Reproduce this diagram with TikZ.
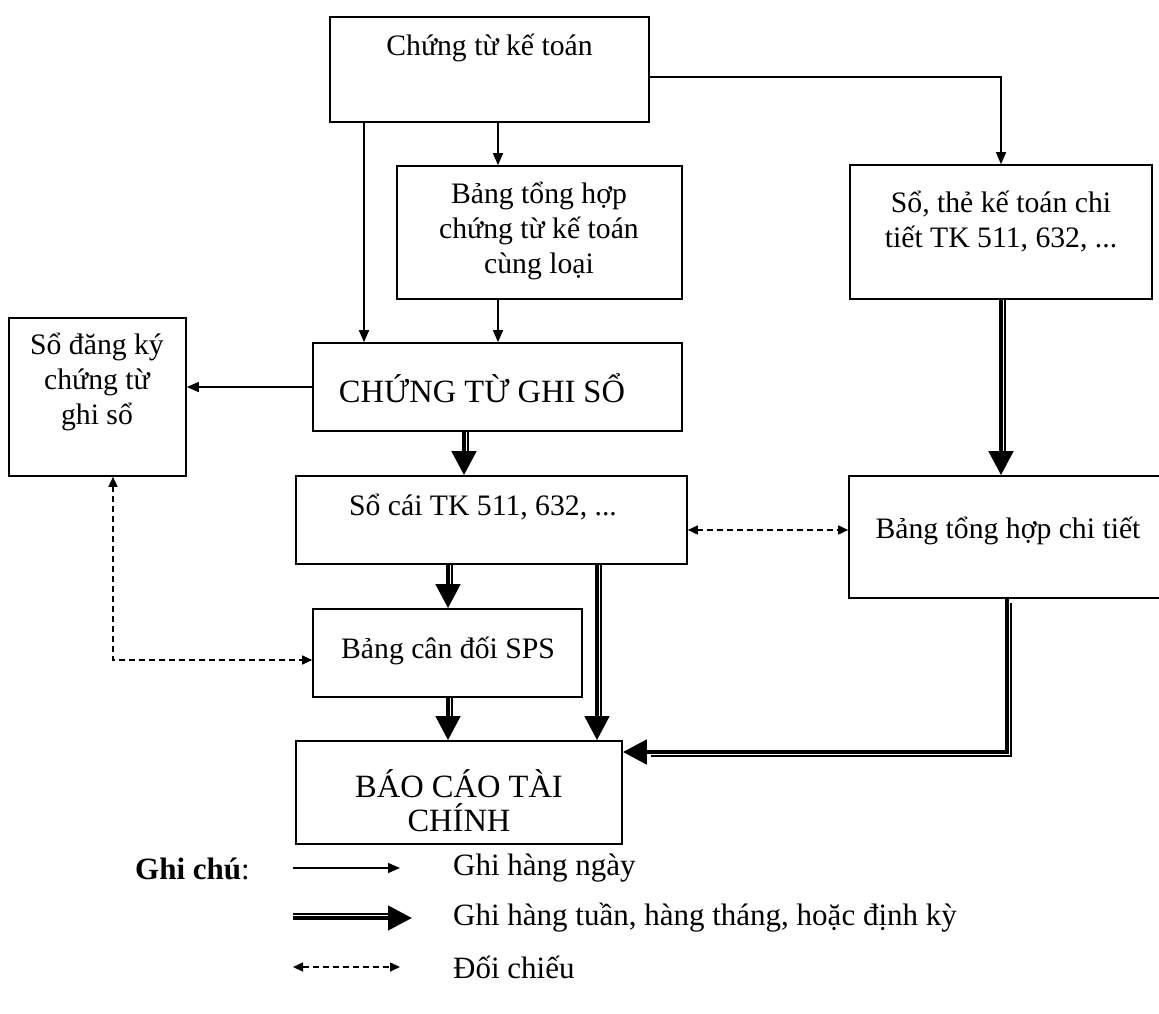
\documentclass[tikz,border=0pt]{standalone}
\usepackage{fontspec}
\setmainfont{Liberation Serif}
\usetikzlibrary{arrows.meta}
\begin{document}
\begin{tikzpicture}[x=1pt,y=-1pt,
  box/.style={draw, line width=1.6pt, inner sep=0pt},
  txt/.style={font=\fontsize{29.7}{35}\selectfont, align=center, inner sep=0pt},
  caps/.style={font=\fontsize{32.5}{34}\selectfont, align=center, inner sep=0pt},
  keytxt/.style={font=\fontsize{31}{36}\selectfont, inner sep=0pt, anchor=west},
  dayarr/.style={line width=1.5pt, -{Triangle[length=12pt,width=10pt]}},
  dblarr/.style={line width=4.5pt, -{Triangle[length=24pt,width=24pt]}},
  cmp/.style={line width=1.3pt, shorten >=24pt},
  dasharr/.style={line width=1.5pt, dash pattern=on 6pt off 4pt,
    {Triangle[length=10pt,width=9pt]}-{Triangle[length=10pt,width=9pt]}}
]
\useasboundingbox (0,0) rectangle (1159,1014);

% boxes
\node[box, minimum width=319pt, minimum height=105pt] (ctkt)  at (489.5,69.5) {};
\node[box, minimum width=285pt, minimum height=133pt] (bth)   at (539.5,232.5) {};
\node[box, minimum width=302pt, minimum height=134pt] (sthe)  at (1001,232) {};
\node[box, minimum width=177pt, minimum height=158pt] (sdk)   at (97.5,397) {};
\node[box, minimum width=369pt, minimum height=88pt]  (ctgs)  at (497.5,387) {};
\node[box, minimum width=391pt, minimum height=88pt]  (socai) at (491.5,520) {};
\node[box, minimum width=316pt, minimum height=122pt] (bthct) at (1007,537) {};
\node[box, minimum width=269pt, minimum height=88pt]  (bcd)   at (447.5,653) {};
\node[box, minimum width=326pt, minimum height=103pt] (bctc)  at (459,792.5) {};

% labels
\node[txt]  (ctkt-t)  at (489.5,48)  {Chứng từ kế toán};
\node[txt]  (bth-t)   at (539,231)   {Bảng tổng hợp\\chứng từ kế toán\\cùng loại};
\node[txt]  (sthe-t)  at (1001,222)  {Sổ, thẻ kế toán chi\\tiết TK 511, 632, ...};
\node[txt]  (sdk-t)   at (97,382)    {Sổ đăng ký\\chứng từ\\ghi sổ};
\node[caps] (ctgs-t)  at (482,388)   {CHỨNG TỪ GHI SỔ};
\node[txt]  (socai-t) at (483,507)   {Sổ cái TK 511, 632, ...};
\node[txt]  (bthct-t) at (1008,531)  {Bảng tổng hợp chi tiết};
\node[txt]  (bcd-t)   at (448,651)   {Bảng cân đối SPS};
\node[caps] (bctc-t)  at (459,801)   {BÁO CÁO TÀI\\CHÍNH};

% guide positions of the connectors
\coordinate (xa) at (364,0);
\coordinate (xb) at (498,0);
\coordinate (xc) at (1001,0);
\coordinate (xd) at (464,0);
\coordinate (xe) at (448,0);
\coordinate (xf) at (597,0);
\coordinate (xs) at (113,0);
\coordinate (ya) at (0,77);
\coordinate (yb) at (0,387);
\coordinate (yc) at (0,530);
\coordinate (yd) at (0,660);
\coordinate (bend) at (1007,752);

% daily entries
\draw[dayarr] (xa |- ctkt.south) -- (xa |- ctgs.north);
\draw[dayarr] (xb |- ctkt.south) -- (xb |- bth.north);
\draw[dayarr] (xb |- bth.south) -- (xb |- ctgs.north);
\draw[dayarr] (ctkt.east |- ya) -| (xc |- sthe.north);
\draw[dayarr] (ctgs.west |- yb) -- (sdk.east |- yb);

% periodic entries
\draw[dblarr] (xd |- ctgs.south) -- (xd |- socai.north);
\draw[cmp, transform canvas={xshift=4pt}] (xd |- ctgs.south) -- (xd |- socai.north);
\draw[dblarr] (xe |- socai.south) -- (xe |- bcd.north);
\draw[cmp, transform canvas={xshift=4pt}] (xe |- socai.south) -- (xe |- bcd.north);
\draw[dblarr] (xf |- socai.south) -- (xf |- bctc.north);
\draw[cmp, transform canvas={xshift=4pt}] (xf |- socai.south) -- (xf |- bctc.north);
\draw[dblarr] (xe |- bcd.south) -- (xe |- bctc.north);
\draw[cmp, transform canvas={xshift=4pt}] (xe |- bcd.south) -- (xe |- bctc.north);
\draw[dblarr] (xc |- sthe.south) -- (xc |- bthct.north);
\draw[cmp, transform canvas={xshift=4pt}] (xc |- sthe.south) -- (xc |- bthct.north);
\draw[dblarr] (bend |- bthct.south) |- (bctc.east |- bend);
\draw[cmp, transform canvas={shift={(4pt,-4pt)}}] (bend |- bthct.south) |- (bctc.east |- bend);

% cross-checks
\draw[dasharr] (socai.east |- yc) -- (bthct.west |- yc);
\draw[dasharr] (xs |- sdk.south) |- (bcd.west |- yd);

% legend
\node[keytxt] (key) at (135,869) {\textbf{Ghi chú}:};
\node[keytxt] (key1) at (453,868) {Ghi hàng ngày};
\node[keytxt] (key2) at (453,918) {Ghi hàng tuần, hàng tháng, hoặc định kỳ};
\node[keytxt] (key3) at (453,967) {Đối chiếu};
\coordinate (k1a) at (293,868);
\coordinate (k1b) at (400,868);
\coordinate (k2a) at (293,918);
\coordinate (k2b) at (412,918);
\coordinate (k3a) at (293,967);
\coordinate (k3b) at (400,967);
\draw[dayarr] (k1a) -- (k1b);
\draw[dblarr] (k2a) -- (k2b);
\draw[cmp, transform canvas={yshift=4pt}] (k2a) -- (k2b);
\draw[dasharr] (k3a) -- (k3b);
\end{tikzpicture}
\end{document}
